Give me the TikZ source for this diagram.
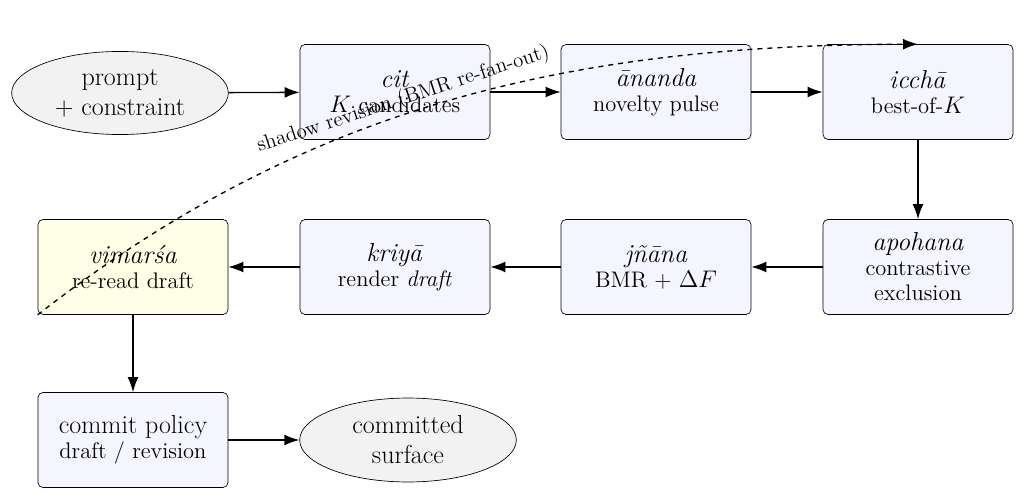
\documentclass[tikz,border=0pt]{standalone}
\usepackage{fontspec}
\usetikzlibrary{shapes.geometric,arrows.meta}
\begin{document}
\begin{tikzpicture}[x=0.6pt,y=-0.6pt,
 box/.style={draw,rounded corners=3pt,fill=blue!4,minimum width=114pt,minimum height=57pt,align=center,font=\fontsize{15.6}{15}\selectfont},
 ell/.style={draw,ellipse,fill=gray!10,minimum width=130pt,minimum height=49pt,align=center,font=\fontsize{15.6}{18}\selectfont},
 arr/.style={-{Latex[length=9pt,width=6.5pt]},thick}]
\newcommand\subt[1]{{\fontsize{13.5}{16}\selectfont #1}}
\useasboundingbox (0,0) rectangle (1025,500);
\node[ell] (p) at (120,93) {prompt\\+ constraint};
\node[box] (cit) at (395,92) {\textit{cit}\\\subt{$K$ candidates}};
\node[box] (an) at (656,92) {\textit{ānanda}\\\subt{novelty pulse}};
\node[box] (ic) at (918,92) {\textit{icchā}\\\subt{best-of-$K$}};
\node[box] (ap) at (918,267) {\textit{apohana}\\\subt{contrastive}\\\subt{exclusion}};
\node[box] (jn) at (656,267) {\textit{jñāna}\\\subt{BMR + $\Delta F$}};
\node[box] (kr) at (395,267) {\textit{kriyā}\\\subt{render \textit{draft}}};
\node[box,fill=yellow!10] (vi) at (133,267) {\textit{vimarśa}\\\subt{re-read draft}};
\node[box] (cm) at (133,440) {commit policy\\\subt{draft / revision}};
\node[ell] (cs) at (408,440) {committed\\surface};
\draw[arr] (p) -- (cit);
\draw[arr] (cit) -- (an);
\draw[arr] (an) -- (ic);
\draw[arr] (ic) -- (ap);
\draw[arr] (ap) -- (jn);
\draw[arr] (jn) -- (kr);
\draw[arr] (kr) -- (vi);
\draw[arr] (vi) -- (cm);
\draw[arr] (cm) -- (cs);
\draw[arr,dashed] (vi.south west) .. controls (300,110) and (560,45) .. node[pos=0.46,sloped,above=-1pt,font=\fontsize{12.5}{14}\selectfont]{shadow revision (BMR re-fan-out)} (ic.north);
\end{tikzpicture}
\end{document}
